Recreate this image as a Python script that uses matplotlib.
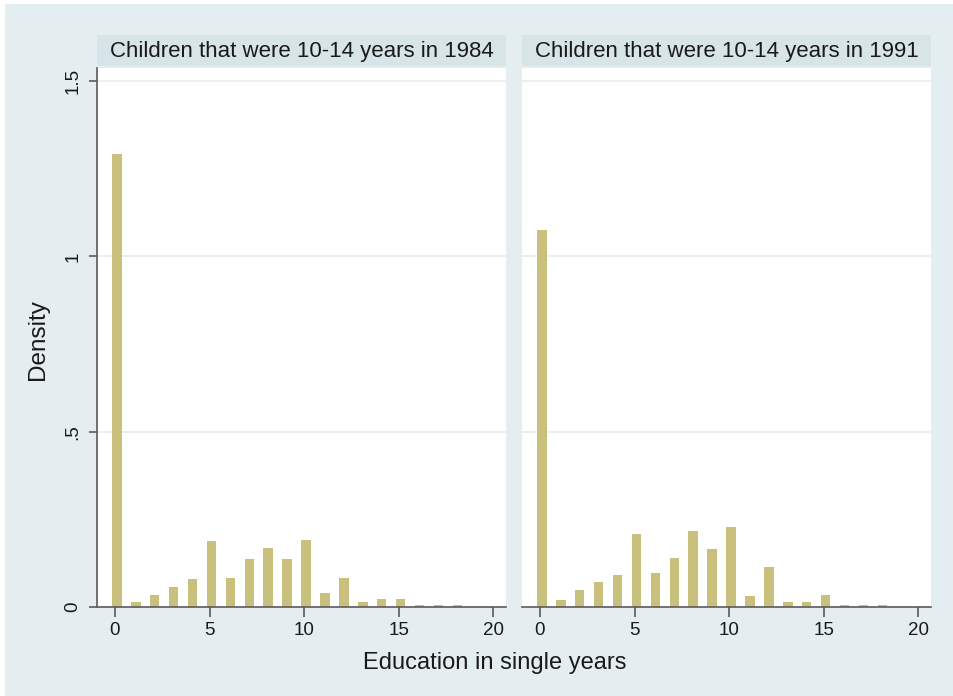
import matplotlib
matplotlib.use("Agg")
import matplotlib.pyplot as plt
from matplotlib.patches import Rectangle

plt.rcParams['font.family'] = ['Liberation Sans', 'DejaVu Sans']

# Education in single years (bin values)
years = list(range(0, 19))

# Density of years of education, cohort aged 10-14 in 1984
density_1984 = [1.291, 0.015, 0.035, 0.057, 0.079, 0.187, 0.084, 0.138, 0.169,
                0.138, 0.190, 0.040, 0.084, 0.014, 0.023, 0.023, 0.005, 0.005, 0.005]

# Density of years of education, cohort aged 10-14 in 1991
density_1991 = [1.074, 0.019, 0.049, 0.070, 0.092, 0.208, 0.096, 0.139, 0.216,
                0.165, 0.229, 0.031, 0.113, 0.014, 0.014, 0.035, 0.005, 0.005, 0.005]

panel_titles = ["Children that were 10-14 years in 1984",
                "Children that were 10-14 years in 1991"]
xticks = [0, 5, 10, 15, 20]
yticks = [0, 0.5, 1, 1.5]
ytick_labels = ["0", ".5", "1", "1.5"]

W, H = 954, 696
BG = "#e4eef0"
STRIP = "#d8e5e8"
BAR = "#c9c07e"
AXIS = "#5a5a5a"
GRID = "#e6eef0"
TEXT = "#1a1a1a"

fig = plt.figure(figsize=(W / 100, H / 100), dpi=100, facecolor="white")
fig.patches.append(Rectangle((5 / W, 0), 1 - 5 / W, (H - 4) / H,
                             transform=fig.transFigure, facecolor=BG,
                             edgecolor="none", zorder=-10))


def px_box(x0, y0, x1, y1):
    return [x0 / W, 1 - y1 / H, (x1 - x0) / W, (y1 - y0) / H]


panels = [(97, density_1984, panel_titles[0], True),
          (522, density_1991, panel_titles[1], False)]

for left, dens, title, show_y in panels:
    ax = fig.add_axes(px_box(left, 68, left + 409, 607))
    ax.set_facecolor("white")
    ax.bar([y + 0.1 for y in years], dens, width=0.5, color=BAR,
           edgecolor="none", zorder=2)
    ax.set_xlim(-0.95, 20.67)
    ax.set_ylim(0, 1.537)
    for g in yticks[1:]:
        ax.axhline(g, color=GRID, lw=1.2, zorder=1)
    for s in ["top", "right"]:
        ax.spines[s].set_visible(False)
    ax.spines["bottom"].set_color(AXIS)
    ax.spines["bottom"].set_linewidth(1.2)
    ax.set_xticks(xticks)
    ax.set_xticklabels([str(t) for t in xticks], fontsize=13.5, color=TEXT)
    ax.tick_params(axis="x", length=7, width=1.2, color=AXIS, pad=4)
    if show_y:
        ax.spines["left"].set_color(AXIS)
        ax.spines["left"].set_linewidth(1.2)
        ax.set_yticks(yticks)
        ax.set_yticklabels(ytick_labels, fontsize=13.5, rotation=90,
                           va="center", color=TEXT)
        ax.tick_params(axis="y", length=6, width=1.2, color=AXIS, pad=5)
    else:
        ax.spines["left"].set_visible(False)
        ax.set_yticks([])

    sx = fig.add_axes(px_box(left, 35, left + 409, 66))
    sx.set_facecolor(STRIP)
    sx.set_xticks([])
    sx.set_yticks([])
    for s in sx.spines.values():
        s.set_visible(False)
    sx.text(0.5, 0.47, title, ha="center", va="center", fontsize=16,
            color=TEXT, transform=sx.transAxes)

fig.text(495 / W, 1 - 663 / H, "Education in single years", ha="center",
         va="center", fontsize=17, color=TEXT)
fig.text(38 / W, 1 - 340 / H, "Density", ha="center", va="center",
         rotation=90, fontsize=17.5, color=TEXT)

fig.savefig("out.png", dpi=100, facecolor=fig.get_facecolor())
